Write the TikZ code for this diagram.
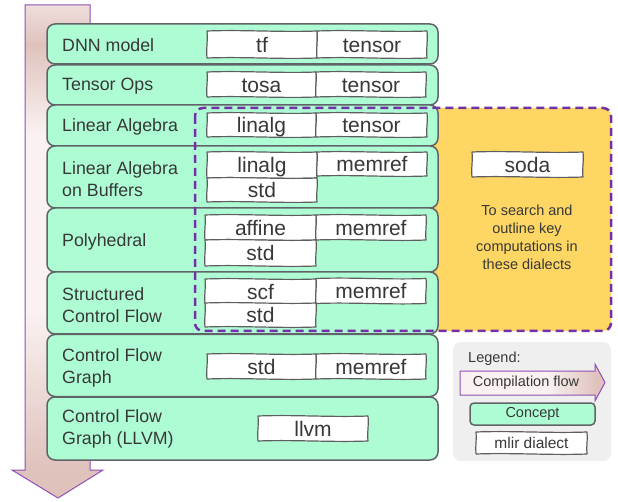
\documentclass[tikz,border=0pt]{standalone}
\usepackage{fontspec}
\setmainfont{Liberation Sans}
\definecolor{rowfill}{HTML}{AEFCD4}
\definecolor{rowdraw}{HTML}{606468}
\definecolor{diadraw}{HTML}{5E5E5E}
\definecolor{txt}{HTML}{383838}
\definecolor{dashpurple}{HTML}{7430A6}
\definecolor{sodafill}{HTML}{FDD663}
\definecolor{flowdraw}{HTML}{8E50B8}
\definecolor{flowdark}{HTML}{E0C2BD}
\definecolor{flowlight}{HTML}{F9F2F1}
\definecolor{flowtop}{HTML}{EEDEDB}
\definecolor{legfill}{HTML}{EFEFEF}
\pgfdeclareverticalshading{flowv}{100bp}{color(0bp)=(flowdark); color(28bp)=(flowdark); color(44bp)=(flowlight); color(62bp)=(flowlight); color(71bp)=(flowdark); color(75bp)=(flowtop); color(100bp)=(flowtop)}
\pgfdeclarehorizontalshading{flowh}{100bp}{color(0bp)=(flowlight); color(25bp)=(flowlight); color(55bp)=(flowlight); color(72bp)=(flowdark); color(100bp)=(flowdark)}
\tikzset{
  rowbox/.style={draw=rowdraw, fill=rowfill, line width=1.5pt, rounded corners=8pt, inner sep=0pt, minimum width=391pt},
  lbl/.style={anchor=west, align=left, inner sep=0pt, text=txt, font=\fontsize{17.8}{22}\selectfont},
  diaedge/.style={draw=diadraw, fill=white, line width=1.2pt, line join=round},
  diatext/.style={inner sep=0pt, text=txt, font=\fontsize{21}{21}\selectfont, text height=16pt, text depth=0pt},
  small/.style={inner sep=0pt, text=txt, font=\fontsize{14.5}{18}\selectfont, align=center},
}
% \dialect[font opts]{name}{x}{y}{w}{h}{text}
\newcommand{\dialect}[7][]{%
  \draw[diaedge] ({#3-#5/2},{#4-#6/2})
    .. controls ({#3-#5/6},{#4-#6/2-1.4}) and ({#3+#5/6},{#4-#6/2+1.4}) .. ({#3+#5/2},{#4-#6/2})
    .. controls ({#3+#5/2+1},{#4-#6/6}) and ({#3+#5/2-1},{#4+#6/6}) .. ({#3+#5/2},{#4+#6/2})
    .. controls ({#3+#5/6},{#4+#6/2+1.4}) and ({#3-#5/6},{#4+#6/2-1.4}) .. ({#3-#5/2},{#4+#6/2})
    .. controls ({#3-#5/2-1},{#4+#6/6}) and ({#3-#5/2+1},{#4-#6/6}) .. cycle;
  \node[diatext, minimum width=#5pt, minimum height=#6pt, #1] (#2) at (#3,#4) {#7};%
}
\begin{document}
\begin{tikzpicture}[x=1pt, y=-1pt]
\useasboundingbox (0,0) rectangle (618,502);
% big compilation-flow arrow
\path[draw=flowdraw, line width=1pt, shading=flowv]
  (25,5) -- (90,5) -- (90,470) -- (103,470) -- (58,498) -- (12,470) -- (25,470) -- cycle;
% soda region fill
\path[fill=sodafill, rounded corners=8pt] (195,108) rectangle (611,331);
% rows
\node[rowbox, minimum height=40pt] (r1) at (242.5,44) {};
\node[rowbox, minimum height=40pt] (r2) at (242.5,85) {};
\node[rowbox, minimum height=41pt] (r3) at (242.5,125.5) {};
\node[rowbox, minimum height=62pt] (r4) at (242.5,177) {};
\node[rowbox, minimum height=64pt] (r5) at (242.5,240) {};
\node[rowbox, minimum height=62pt] (r6) at (242.5,303) {};
\node[rowbox, minimum height=62pt] (r7) at (242.5,365.5) {};
\node[rowbox, minimum height=63pt] (r8) at (242.5,428.5) {};
% row labels
\node[lbl] (l1) at (62,45) {DNN model};
\node[lbl] (l2) at (62,86) {Tensor Ops};
\node[lbl] (l3) at (62,127) {Linear Algebra};
\node[lbl] (l4) at (62,179) {Linear Algebra\\on Buffers};
\node[lbl] (l5) at (62,242) {Polyhedral};
\node[lbl] (l6) at (62,305) {Structured\\Control Flow};
\node[lbl] (l7) at (62,368) {Control Flow\\Graph};
\node[lbl] (l8) at (62,429) {Control Flow\\Graph (LLVM)};
% dialect boxes
\dialect{d1a}{262}{44.5}{110}{27}{tf}
\dialect{d1b}{372}{44.5}{110}{27}{tensor}
\dialect{d2a}{261.5}{84.5}{109}{25}{tosa}
\dialect{d2b}{371}{84.5}{110}{25}{tensor}
\dialect{d3a}{261.5}{125}{109}{24}{linalg}
\dialect{d3b}{371.5}{125}{111}{24}{tensor}
\dialect{d4a}{262}{165}{110}{26}{linalg}
\dialect{d4b}{372}{164}{110}{24}{memref}
\dialect{d4c}{262}{190}{110}{24}{std}
\dialect{d5a}{260.5}{227.5}{111}{25}{affine}
\dialect{d5b}{371}{227.5}{110}{25}{memref}
\dialect{d5c}{260.5}{253}{111}{26}{std}
\dialect{d6a}{260.5}{291.5}{111}{25}{scf}
\dialect{d6b}{371}{291}{110}{25}{memref}
\dialect{d6c}{260.5}{315}{111}{24}{std}
\dialect{d7a}{261.5}{366.5}{109}{25}{std}
\dialect{d7b}{371}{366.5}{110}{25}{memref}
\dialect{d8a}{313}{428.5}{110}{25}{llvm}
% soda
\dialect{soda}{527.5}{164.5}{111}{25}{soda}
\node[small] (sodatxt) at (527,237) {To search and\\outline key\\computations in\\these dialects};
% dashed region border
\draw[dashpurple, line width=2.5pt, dash pattern=on 8pt off 5pt, rounded corners=8pt] (195,108) rectangle (611,331);
% legend
\path[fill=legfill, rounded corners=8pt] (453,342) rectangle (611,461);
\node[small, anchor=west] (legtitle) at (468,359) {Legend:};
\path[draw=flowdraw, line width=1pt, shading=flowh]
  (460,371) -- (595,371) -- (595,364) -- (605,382.5) -- (595,401) -- (595,395) -- (460,395) -- cycle;
\node[small] (legflow) at (526,383) {Compilation flow};
\node[draw=rowdraw, fill=rowfill, line width=1.5pt, rounded corners=4pt, inner sep=0pt,
  minimum width=125pt, minimum height=22pt, text=txt, font=\fontsize{14.5}{18}\selectfont] (legconcept) at (532.5,414) {Concept};
\dialect[font=\fontsize{15.5}{18}\selectfont, text height=11pt]{legdia}{531.5}{443}{111}{22}{mlir dialect}
\end{tikzpicture}
\end{document}
